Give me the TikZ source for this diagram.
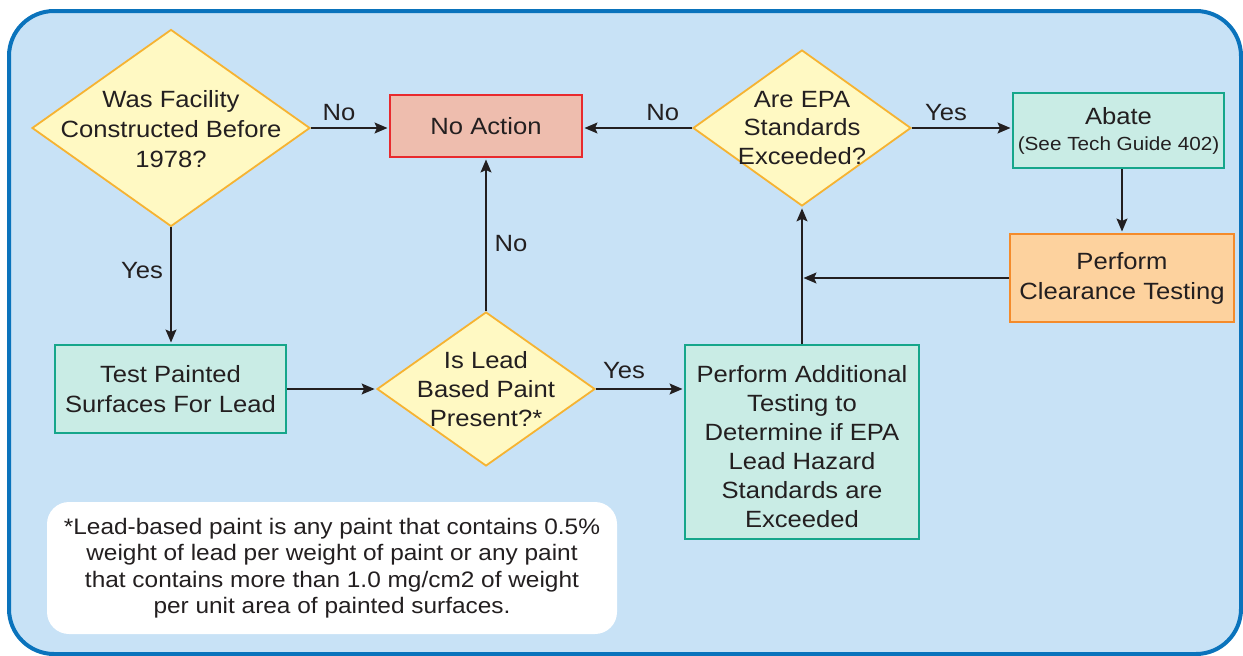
\documentclass[tikz,border=0pt]{standalone}
\usepackage{fontspec}
\setmainfont{Liberation Sans}[FakeStretch=1.09]
\usetikzlibrary{shapes.geometric,arrows.meta}
\definecolor{bg}{HTML}{C8E2F6}
\definecolor{frameb}{HTML}{0A73BC}
\definecolor{decf}{HTML}{FFF9C3}
\definecolor{decb}{HTML}{F6B332}
\definecolor{naf}{HTML}{EEBDAE}
\definecolor{nab}{HTML}{E82A2E}
\definecolor{tealf}{HTML}{C9ECE5}
\definecolor{tealb}{HTML}{16A68B}
\definecolor{orf}{HTML}{FDD29E}
\definecolor{orb}{HTML}{F48B2B}
\definecolor{ink}{HTML}{231F20}
\begin{document}
\begin{tikzpicture}[x=1pt,y=-1pt,
  txt/.style={font=\fontsize{23.5}{30}\selectfont, text=ink, align=center},
  dec/.style={diamond, draw=decb, fill=decf, line width=1.8pt, inner sep=0pt},
  boxn/.style={rectangle, line width=2pt, inner sep=0pt, txt},
  arr/.style={draw=ink, line width=1.3pt, -{Stealth[length=13pt,width=11pt,inset=2.5pt]}, shorten >=1.5pt},
  lab/.style={txt, inner sep=0pt}
]
\useasboundingbox (0,0) rectangle (1243,656);
\begin{scope}
\clip (0,0) rectangle (1243,656);
\draw[line width=4pt, draw=frameb, fill=bg, rounded corners=45pt] (9,11) rectangle (1241,654);
\end{scope}

% nodes
\node[dec, minimum width=278pt, minimum height=197pt,
  label={[txt, yshift=-1.5pt]center:{Was Facility\\Constructed Before\\1978?}}] (d1) at (171,128) {};
\node[boxn, draw=nab, fill=naf, minimum width=192pt, minimum height=62pt] (noact) at (486,126) {No Action};
\node[dec, minimum width=218pt, minimum height=156pt,
  label={[txt, font=\fontsize{23.5}{28.5}\selectfont]center:{Are EPA\\Standards\\Exceeded?}}] (epa) at (802,128) {};
\node[boxn, draw=tealb, fill=tealf, minimum width=211pt, minimum height=75pt] (abate) at (1118.5,130.5)
  {Abate\\[-4pt]{\fontsize{19}{22}\selectfont (See Tech Guide 402)}};
\node[boxn, draw=orb, fill=orf, minimum width=224pt, minimum height=88pt] (clear) at (1122,278)
  {Perform\\Clearance Testing};
\node[boxn, draw=tealb, fill=tealf, minimum width=231pt, minimum height=88pt] (test) at (170.5,389)
  {Test Painted\\Surfaces For Lead};
\node[dec, minimum width=218pt, minimum height=154pt,
  label={[txt, font=\fontsize{23.5}{29}\selectfont]center:{Is Lead\\Based Paint\\Present?*}}] (lead) at (486,389) {};
\node[boxn, draw=tealb, fill=tealf, minimum width=234pt, minimum height=194pt,
  label={[txt, font=\fontsize{23.5}{29}\selectfont, yshift=-5pt]center:{Perform Additional\\Testing to\\Determine if EPA\\Lead Hazard\\Standards are\\Exceeded}}] (add) at (802,442) {};
\node[fill=white, rounded corners=22pt, minimum width=570pt, minimum height=132pt, inner sep=0pt,
  text=ink, align=center, font=\fontsize{22.4}{26.5}\selectfont] (note) at (332,568)
  {*Lead-based paint is any paint that contains 0.5\%\\weight of lead per weight of paint or any paint\\that contains more than 1.0 mg/cm2 of weight\\per unit area of painted surfaces.};

% connectors
\draw[arr] (d1.east) -- node[lab, pos=0.36, yshift=15pt] {No} (d1.east -| noact.west);
\draw[arr] (epa.west) -- node[lab, pos=0.27, yshift=15pt] {No} (epa.west -| noact.east);
\draw[arr] (epa.east) -- node[lab, pos=0.34, yshift=15.5pt] {Yes} (epa.east -| abate.west);
\draw[arr] (clear.north |- abate.south) -- (clear.north);
\draw[arr] (clear.west) -- (clear.west -| add.north);
\draw[arr] (add.north) -- (epa.south);
\draw[arr] (d1.south) -- node[lab, pos=0.37, xshift=-29pt] {Yes} (d1.south |- test.north);
\draw[arr] (test.east) -- (test.east -| lead.west);
\draw[arr] (lead.north) -- node[lab, pos=0.44, xshift=25pt] {No} (noact.south);
\draw[arr] (lead.east) -- node[lab, pos=0.32, yshift=18.5pt] {Yes} (lead.east -| add.west);
\end{tikzpicture}
\end{document}
